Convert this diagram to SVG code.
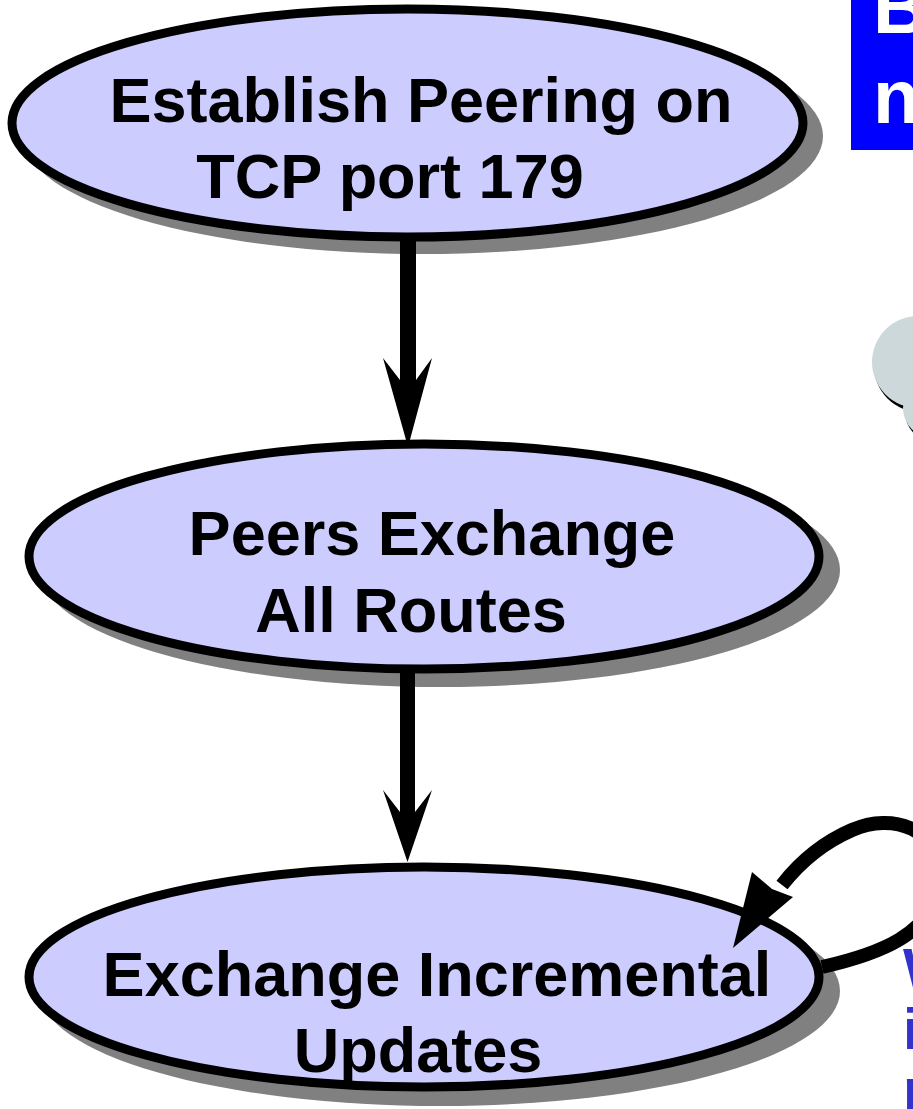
<svg xmlns="http://www.w3.org/2000/svg" width="913" height="1109" viewBox="0 0 913 1109">
<style>
.shadow{fill:#808080;stroke:none}
.node{fill:#CCCCFF;stroke:#000;stroke-width:9}
.lbl{font-family:"Liberation Sans",Arial,sans-serif;font-weight:bold;font-size:63px;fill:#000;text-anchor:middle}
.conn{stroke:#000;fill:none}
.head{fill:#000;stroke:none}
.side{font-family:"Liberation Sans",Arial,sans-serif;font-weight:bold}
</style>
<rect width="913" height="1109" fill="#fff"/>

<g id="title-box">
<rect x="851" y="0" width="70" height="150" fill="#0000FF"/>
<text class="side" x="873" y="33" font-size="76" fill="#fff">B</text>
<text class="side" x="873" y="123" font-size="76" fill="#fff">n</text>
</g>

<g id="callout">
<circle cx="920" cy="366" r="46" fill="#000"/>
<circle cx="935" cy="412" r="30" fill="#000"/>
<circle cx="918" cy="362" r="46" fill="#CDD8DA"/>
<circle cx="933" cy="408" r="30" fill="#CDD8DA"/>
</g>

<g id="side-text">
<text class="side" x="903" y="989" font-size="58" fill="#3333CC">W</text>
<text class="side" x="903" y="1049" font-size="58" fill="#3333CC">i</text>
<text class="side" x="903" y="1109" font-size="58" fill="#3333CC">r</text>
</g>

<g id="node-establish">
<ellipse class="shadow" cx="423" cy="136" rx="400" ry="118"/>
<ellipse class="node" cx="407.5" cy="123" rx="395.5" ry="114"/>
<text class="lbl" x="421" y="122">Establish Peering on</text>
<text class="lbl" x="390" y="198">TCP port 179</text>
</g>

<g id="node-peers">
<ellipse class="shadow" cx="440" cy="570" rx="400" ry="117"/>
<ellipse class="node" cx="424" cy="556.5" rx="395" ry="112.5"/>
<text class="lbl" x="432" y="555">Peers Exchange</text>
<text class="lbl" x="411" y="632">All Routes</text>
</g>

<g id="node-updates">
<ellipse class="shadow" cx="440" cy="991" rx="400" ry="115"/>
<ellipse class="node" cx="424" cy="977" rx="395" ry="110"/>
<text class="lbl" x="437" y="996">Exchange Incremental</text>
<text class="lbl" x="418" y="1072">Updates</text>
</g>

<g id="connectors">
<rect x="400" y="240" width="16" height="142" fill="#000"/>
<polygon class="head" points="383,358 408,447 432,358 416,380 400,380"/>
<rect x="400" y="672" width="15" height="142" fill="#000"/>
<polygon class="head" points="383,790 407.5,862 432,790 415,812 400,812"/>
<path class="conn" stroke-width="14" d="M 822,967 C 875,955 936,935 939,880 C 942,828 892,812 852,830 C 822,843 800,862 782,885"/>
<polygon class="head" points="733,948 752,872 772,889 793,897"/>
</g>
</svg>
